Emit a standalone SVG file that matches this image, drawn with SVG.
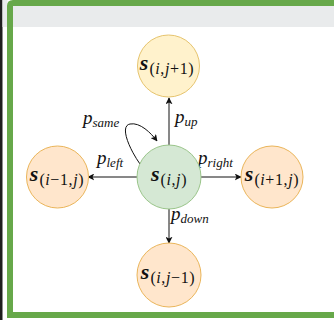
<svg xmlns="http://www.w3.org/2000/svg" width="334" height="320" viewBox="0 0 334 320">
<style>
.nl{font-family:"Liberation Serif","DejaVu Serif",serif;fill:#111;}
.s{font-weight:bold;font-style:italic;font-size:22px;}
.sub{font-size:16px;letter-spacing:0.6px;}
.i{font-style:italic;}
.el{font-family:"Liberation Serif","DejaVu Serif",serif;font-style:italic;fill:#111;}
.p{font-size:19px;}
.ps{font-size:13px;}
.edge{fill:none;stroke:#111;stroke-width:1;}
.yel{fill:#fff2cc;stroke:#e6c46e;stroke-width:1;}
.org{fill:#ffe6cc;stroke:#eab55a;stroke-width:1;}
.grn{fill:#d5e8d4;stroke:#9ac58a;stroke-width:1;}
</style>
<defs>
<marker id="ah" viewBox="0 0 10 10" refX="9" refY="5" markerWidth="7" markerHeight="7" markerUnits="userSpaceOnUse" orient="auto">
<path d="M0,0 L10,5 L0,10 L2.5,5 Z" fill="#111"/>
</marker>
</defs>
<g id="frame">
<rect x="0" y="0" width="334" height="320" fill="#ffffff"/>
<rect x="0" y="0" width="2.5" height="320" fill="#1e1e1e"/>
<rect x="2.5" y="0" width="5" height="27" fill="#e9ebec"/>
<rect x="13" y="6" width="321" height="21" fill="#e9ebec"/>
<path d="M10 318 V6 Q10 3 13 3 H334" fill="none" stroke="#67a84a" stroke-width="6"/>
<rect x="7" y="312" width="327" height="6" fill="#67a84a"/>
</g>
<g id="connectors">
<line class="edge" x1="169" y1="145" x2="169" y2="98" marker-end="url(#ah)"/>
<line class="edge" x1="169" y1="209" x2="169" y2="243" marker-end="url(#ah)"/>
<line class="edge" x1="137" y1="177" x2="88" y2="177" marker-end="url(#ah)"/>
<line class="edge" x1="201" y1="177" x2="241" y2="177" marker-end="url(#ah)"/>
<path class="edge" d="M140 164 C130 150 119 126 130 124 C140 122 151 133 157 141" marker-end="url(#ah)"/>
<text class="el" x="175" y="123"><tspan class="p">p</tspan><tspan class="ps" dy="3">up</tspan></text>
<text class="el" x="171" y="220"><tspan class="p">p</tspan><tspan class="ps" dy="3">down</tspan></text>
<text class="el" x="97" y="164"><tspan class="p">p</tspan><tspan class="ps" dy="3">left</tspan></text>
<text class="el" x="198" y="164"><tspan class="p">p</tspan><tspan class="ps" dy="3">right</tspan></text>
<text class="el" x="83" y="124"><tspan class="p">p</tspan><tspan class="ps" dy="3">same</tspan></text>
</g>
<g id="node-center">
<circle class="grn" cx="169" cy="177" r="32"/>
<text class="nl" x="169" y="181" text-anchor="middle"><tspan class="s">s</tspan><tspan class="sub" dy="4" dx="1">(<tspan class="i">i</tspan>,<tspan class="i">j</tspan>)</tspan></text>
</g>
<g id="node-up">
<circle class="yel" cx="168.5" cy="66" r="31"/>
<text class="nl" x="167" y="70" text-anchor="middle"><tspan class="s">s</tspan><tspan class="sub" dy="4" dx="1">(<tspan class="i">i</tspan>,<tspan class="i">j</tspan>+1)</tspan></text>
</g>
<g id="node-down">
<circle class="org" cx="169" cy="275" r="32"/>
<text class="nl" x="168" y="279" text-anchor="middle"><tspan class="s">s</tspan><tspan class="sub" dy="4" dx="1">(<tspan class="i">i</tspan>,<tspan class="i">j</tspan>−1)</tspan></text>
</g>
<g id="node-left">
<circle class="org" cx="57.5" cy="177" r="31"/>
<text class="nl" x="57" y="181" text-anchor="middle"><tspan class="s">s</tspan><tspan class="sub" dy="4" dx="1">(<tspan class="i">i</tspan>−1,<tspan class="i">j</tspan>)</tspan></text>
</g>
<g id="node-right">
<circle class="org" cx="272" cy="177" r="31"/>
<text class="nl" x="272" y="181" text-anchor="middle"><tspan class="s">s</tspan><tspan class="sub" dy="4" dx="1">(<tspan class="i">i</tspan>+1,<tspan class="i">j</tspan>)</tspan></text>
</g>
</svg>
